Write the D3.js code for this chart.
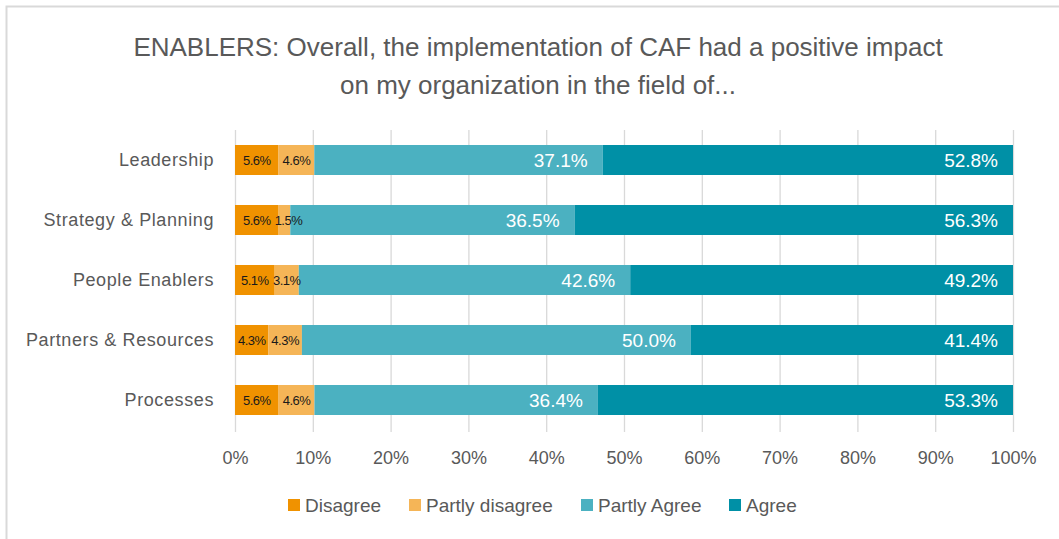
<!DOCTYPE html>
<html>
<head>
<meta charset="utf-8">
<script src="https://cdn.jsdelivr.net/npm/d3@7"></script>
<style>
  body { margin: 0; background: #fff; }
  svg { display: block; }
</style>
</head>
<body>
<svg id="chart" width="1059" height="539"></svg>
<script>
// data
var categories = ["Leadership", "Strategy & Planning", "People Enablers", "Partners & Resources", "Processes"];
var seriesNames = ["Disagree", "Partly disagree", "Partly Agree", "Agree"];
var disagree      = [5.6, 5.6, 5.1, 4.3, 5.6];
var partlyDisagree = [4.6, 1.5, 3.1, 4.3, 4.6];
var partlyAgree   = [37.1, 36.5, 42.6, 50.0, 36.4];
var agree         = [52.8, 56.3, 49.2, 41.4, 53.3];
var tickValues = [0, 10, 20, 30, 40, 50, 60, 70, 80, 90, 100];
var titleLines = ["ENABLERS: Overall, the implementation of CAF had a positive impact",
                  "on my organization in the field of..."];

var colors = ["#f09200", "#f5b557", "#4bb1c1", "#0090a6"];
var narrow = "'Liberation Sans Narrow', 'Liberation Sans', Arial, sans-serif";
var textCol = "#595959";

var svg = d3.select("#chart");

// chart area border (only top / left visible in the frame)
svg.append("rect")
    .attr("x", 6.5).attr("y", 6.5)
    .attr("width", 1100).attr("height", 600)
    .attr("fill", "none")
    .attr("stroke", "#d9d9d9")
    .attr("stroke-width", 2);

// title
svg.append("g").selectAll("text")
    .data(titleLines)
    .enter()
    .append("text")
    .attr("x", 538)
    .attr("y", function(d, i){ return 56 + i * 38; })
    .attr("text-anchor", "middle")
    .attr("fill", textCol)
    .style("font-family", narrow)
    .style("font-size", "26px")
    .text(function(d){ return d; });

var rows = categories.map(function(c, i){
    var vals = [disagree[i], partlyDisagree[i], partlyAgree[i], agree[i]];
    var tot = d3.sum(vals);
    var o = {cat: c};
    seriesNames.forEach(function(s, j){ o[s] = vals[j] / tot * 100; o["raw" + j] = vals[j]; });
    return o;
});

var stack = d3.stack().keys(seriesNames)(rows);

var x = d3.scaleLinear().domain([0, 100]).range([235, 1013]);
var y = d3.scaleBand().domain(categories).range([130, 430]).paddingInner(0.5).paddingOuter(0.25);

// gridlines
svg.append("g").selectAll("line")
    .data(tickValues)
    .enter()
    .append("line")
    .attr("x1", function(d){ return x(d) + 0.5; })
    .attr("x2", function(d){ return x(d) + 0.5; })
    .attr("y1", 130)
    .attr("y2", 432)
    .attr("stroke", "#d9d9d9")
    .attr("stroke-width", 1.3);

// bars
var layers = svg.append("g").selectAll("g")
    .data(stack)
    .enter()
    .append("g")
    .attr("fill", function(d, i){ return colors[i]; });

layers.selectAll("rect")
    .data(function(d){ return d; })
    .enter()
    .append("rect")
    .attr("x", function(d){ return x(d[0]); })
    .attr("width", function(d){ return x(d[1]) - x(d[0]); })
    .attr("y", function(d){ return y(d.data.cat); })
    .attr("height", y.bandwidth());

// data labels, drawn above all bars
var labelLayers = svg.append("g").selectAll("g")
    .data(stack)
    .enter()
    .append("g");

labelLayers.each(function(layer, j){
    d3.select(this).selectAll("text")
        .data(layer)
        .enter()
        .append("text")
        .attr("x", function(d){
            if (j < 2) return (x(d[0]) + x(d[1])) / 2 + (j == 1 && d[1] - d[0] < 3 ? 4 : 0);
            return x(d[1]) - 15;
        })
        .attr("y", function(d){ return y(d.data.cat) + y.bandwidth() / 2; })
        .attr("dy", "0.36em")
        .attr("text-anchor", j < 2 ? "middle" : "end")
        .attr("fill", j < 2 ? "#1a1a1a" : "#ffffff")
        .style("font-family", narrow)
        .style("font-size", j < 2 ? "13px" : "19px")
        .style("letter-spacing", j < 2 ? "-0.5px" : "0px")
        .text(function(d){ return d.data["raw" + j].toFixed(1) + "%"; });
});

// category axis
var yAxis = svg.append("g")
    .attr("transform", "translate(214,0)")
    .call(d3.axisLeft(y).tickSize(0).tickPadding(0));
yAxis.select(".domain").remove();
yAxis.selectAll("text")
    .attr("fill", textCol)
    .style("font-family", "'Liberation Sans', Arial, sans-serif")
    .style("font-size", "18px")
    .style("letter-spacing", "0.6px");

// value axis
var xAxis = svg.append("g")
    .attr("transform", "translate(0,448)")
    .call(d3.axisBottom(x).tickValues(tickValues).tickSize(0).tickPadding(0)
        .tickFormat(function(d){ return d + "%"; }));
xAxis.select(".domain").remove();
xAxis.selectAll("text")
    .attr("dy", "0.9em")
    .attr("fill", textCol)
    .style("font-family", narrow)
    .style("font-size", "18px");

// legend
var legendX = [288, 409, 581, 729];
var legend = svg.append("g").selectAll("g")
    .data(seriesNames)
    .enter()
    .append("g")
    .attr("transform", function(d, i){ return "translate(" + legendX[i] + ",505)"; });
legend.append("rect")
    .attr("x", 0).attr("y", -6)
    .attr("width", 12).attr("height", 12)
    .attr("fill", function(d, i){ return colors[i]; });
legend.append("text")
    .attr("x", 17)
    .attr("dy", "0.35em")
    .attr("fill", textCol)
    .style("font-family", narrow)
    .style("font-size", "19px")
    .text(function(d){ return d; });
</script>
</body>
</html>
